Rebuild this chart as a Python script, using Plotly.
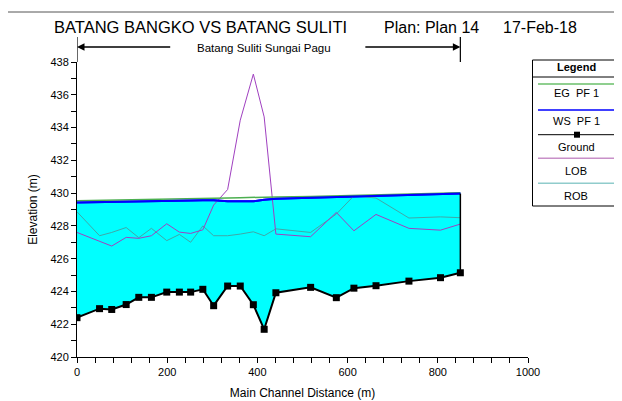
import plotly.graph_objects as go

# ---- data ----
dist = [0, 50, 77, 109, 137, 165, 199, 227, 252, 279, 303, 334, 362, 391, 415,
        441, 518, 575, 614, 663, 736, 806, 850]
ground = [422.4, 422.95, 422.9, 423.2, 423.64, 423.64, 423.96, 423.96, 423.96,
          424.13, 423.13, 424.33, 424.33, 423.19, 421.69, 423.92, 424.25, 423.62,
          424.2, 424.35, 424.63, 424.84, 425.14]
ws = [429.43, 429.45, 429.46, 429.48, 429.5, 429.5, 429.5, 429.5, 429.55, 429.57,
      429.57, 429.51, 429.5, 429.5, 429.6, 429.65, 429.72, 429.76, 429.8, 429.82,
      429.9, 429.95, 429.97]
eg = [429.53, 429.55, 429.57, 429.6, 429.61, 429.62, 429.63, 429.64, 429.65, 429.66,
      429.68, 429.7, 429.72, 429.75, 429.76, 429.77, 429.8, 429.83, 429.85, 429.88,
      429.95, 429.99, 430.02]
lob = [427.6, 427.05, 426.77, 427.3, 427.24, 427.4, 428.13, 427.62, 427.54, 427.76,
       429.27, 430.22, 434.45, 437.26, 434.65, 427.5, 427.34, 428.82, 427.7, 428.7,
       427.85, 427.74, 428.11]
rob = [428.86, 427.4, 427.6, 427.9, 427.28, 427.85, 427.1, 427.48, 427.0, 428.0,
       427.4, 427.4, 427.5, 427.64, 427.4, 427.82, 427.6, 428.72, 429.84, 429.7,
       428.48, 428.55, 428.5]

title_main = "BATANG BANGKO VS BATANG SULITI"
title_plan = "Plan: Plan 14"
title_date = "17-Feb-18"
reach_name = "Batang Suliti Sungai Pagu"
legend_title = "Legend"
legend_names = ["EG  PF 1", "WS  PF 1", "Ground", "LOB", "ROB"]

x_range = [0, 1000]
y_range = [420, 438]

C_EG = "#4CAF50"
C_WS = "#0000FF"
C_GR = "#000000"
C_LOB = "#A040C0"
C_ROB = "#3FA8A8"
C_FILL = "#00FFFF"
FONT = "Liberation Sans, Arial, sans-serif"

fig = go.Figure()
# fill base (ground, invisible)
fig.add_trace(go.Scatter(x=dist, y=ground, mode="lines", line=dict(width=0, color=C_GR),
                         showlegend=False, hoverinfo="skip"))
# water surface with fill down to ground
fig.add_trace(go.Scatter(x=dist, y=ws, mode="lines", fill="tonexty", fillcolor=C_FILL,
                         line=dict(color=C_WS, width=2), showlegend=False))
fig.add_trace(go.Scatter(x=dist, y=rob, mode="lines", line=dict(color=C_ROB, width=1),
                         showlegend=False))
fig.add_trace(go.Scatter(x=dist, y=lob, mode="lines", line=dict(color=C_LOB, width=1),
                         showlegend=False))
fig.add_trace(go.Scatter(x=dist, y=eg, mode="lines", line=dict(color=C_EG, width=1.5),
                         showlegend=False))
fig.add_trace(go.Scatter(x=dist, y=ws, mode="lines", line=dict(color=C_WS, width=2),
                         showlegend=False))
# right edge of the wetted section
fig.add_trace(go.Scatter(x=[dist[-1], dist[-1]], y=[ground[-1], ws[-1]], mode="lines",
                         line=dict(color="black", width=1.5), showlegend=False))
fig.add_trace(go.Scatter(x=dist, y=ground, mode="lines+markers",
                         line=dict(color=C_GR, width=2),
                         marker=dict(symbol="square", size=7, color=C_GR),
                         showlegend=False))

# geometry in reference-window pixels; the page body adds an 8px offset
OFF = 8
PL, PR, PT, PB = 77, 528, 62, 357
W, H = 622 - OFF, 401 - OFF
def px(xp):
    return (xp - PL) / (PR - PL)
def py(yp):
    return (PB - yp) / (PB - PT)

shapes = []
annotations = []

# outer frame (top + left)
shapes.append(dict(type="line", xref="paper", yref="paper", x0=px(7), x1=px(640),
                   y0=py(12), y1=py(12), line=dict(color="#555555", width=1)))
shapes.append(dict(type="line", xref="paper", yref="paper", x0=px(7), x1=px(7),
                   y0=py(12), y1=py(420), line=dict(color="#555555", width=1)))

# title pieces
annotations += [
    dict(text=title_main, x=px(52), y=py(27), xref="paper", yref="paper",
         xanchor="left", yanchor="middle", showarrow=False,
         font=dict(family=FONT, size=16.5, color="black")),
    dict(text=title_plan, x=px(382), y=py(27), xref="paper", yref="paper",
         xanchor="left", yanchor="middle", showarrow=False,
         font=dict(family=FONT, size=16, color="black")),
    dict(text=title_date, x=px(501), y=py(27), xref="paper", yref="paper",
         xanchor="left", yanchor="middle", showarrow=False,
         font=dict(family=FONT, size=16, color="black")),
]

# reach name with arrows
annotations.append(dict(text=reach_name, x=px(264), y=py(47.5), xref="paper", yref="paper",
                        xanchor="center", yanchor="middle", showarrow=False,
                        font=dict(family=FONT, size=11.5, color="black")))
annotations.append(dict(text="", x=dist[0], y=py(47), xref="x", yref="paper",
                        ax=210, axref="x", ay=0, ayref="pixel", showarrow=True,
                        arrowhead=2, arrowsize=1, arrowwidth=1.5, arrowcolor="black"))
annotations.append(dict(text="", x=dist[-1], y=py(47), xref="x", yref="paper",
                        ax=636, axref="x", ay=0, ayref="pixel", showarrow=True,
                        arrowhead=2, arrowsize=1, arrowwidth=1.5, arrowcolor="black"))
for xv in (dist[0], dist[-1]):
    shapes.append(dict(type="line", xref="x", yref="paper", x0=xv, x1=xv,
                       y0=py(37), y1=1.0, line=dict(color="black", width=1.2)))

# custom legend box
LX0, LX1 = px(532.5), px(619.5)
shapes.append(dict(type="rect", xref="paper", yref="paper", x0=LX0, x1=LX1,
                   y0=py(206), y1=py(60), line=dict(color="black", width=1),
                   fillcolor="white"))
shapes.append(dict(type="line", xref="paper", yref="paper", x0=LX0, x1=LX1,
                   y0=py(77), y1=py(77), line=dict(color="black", width=1)))
annotations.append(dict(text="<b>" + legend_title + "</b>", x=px(576), y=py(67),
                        xref="paper", yref="paper", showarrow=False,
                        xanchor="center", yanchor="middle",
                        font=dict(family=FONT, size=11, color="black")))
leg_line_y = [84, 110, 134.7, 158.3, 183.3]
leg_text_y = [93.3, 121, 146.7, 170.7, 195.7]
leg_colors = ["#8FCF8F", C_WS, C_GR, "#C890C8", "#90CCCC"]
leg_widths = [2, 1.5, 1, 1.5, 1.5]
for name, ly, ty, col, lw in zip(legend_names, leg_line_y, leg_text_y, leg_colors, leg_widths):
    shapes.append(dict(type="line", xref="paper", yref="paper", x0=px(538), x1=px(616),
                       y0=py(ly), y1=py(ly), line=dict(color=col, width=lw)))
    annotations.append(dict(text=name, x=px(576), y=py(ty), xref="paper", yref="paper",
                            showarrow=False, xanchor="center", yanchor="middle",
                            font=dict(family=FONT, size=11, color="black")))
# ground marker in legend
shapes.append(dict(type="rect", xref="paper", yref="paper",
                   x0=px(577 - 3), x1=px(577 + 3), y0=py(134.7 + 3), y1=py(134.7 - 3),
                   fillcolor="black", line=dict(width=0)))

fig.update_layout(
    width=W, height=H,
    margin=dict(l=PL - OFF, r=W - (PR - OFF), t=PT - OFF, b=H - (PB - OFF),
                autoexpand=False),
    paper_bgcolor="white", plot_bgcolor="white",
    font=dict(family=FONT, size=11, color="black"),
    shapes=shapes, annotations=annotations,
    showlegend=False,
)
fig.update_xaxes(range=x_range, showline=True, linecolor="black", linewidth=1,
                 showgrid=False, zeroline=False, ticks="outside", ticklen=5,
                 tickcolor="black", dtick=200, tick0=0,
                 minor=dict(dtick=40, ticks="outside", ticklen=5, tickcolor="black",
                            showgrid=False),
                 tickfont=dict(family=FONT, size=11),
                 title=dict(text="Main Channel Distance (m)", standoff=11,
                            font=dict(family=FONT, size=12)))
fig.update_yaxes(range=y_range, showline=True, linecolor="black", linewidth=1,
                 showgrid=False, zeroline=False, ticks="outside", ticklen=5,
                 tickcolor="black", dtick=2, tick0=420,
                 minor=dict(dtick=1, ticks="outside", ticklen=5, tickcolor="black",
                            showgrid=False),
                 tickfont=dict(family=FONT, size=11),
                 title=dict(text="Elevation (m)", standoff=10,
                            font=dict(family=FONT, size=12)))

fig.write_html("out.html")
